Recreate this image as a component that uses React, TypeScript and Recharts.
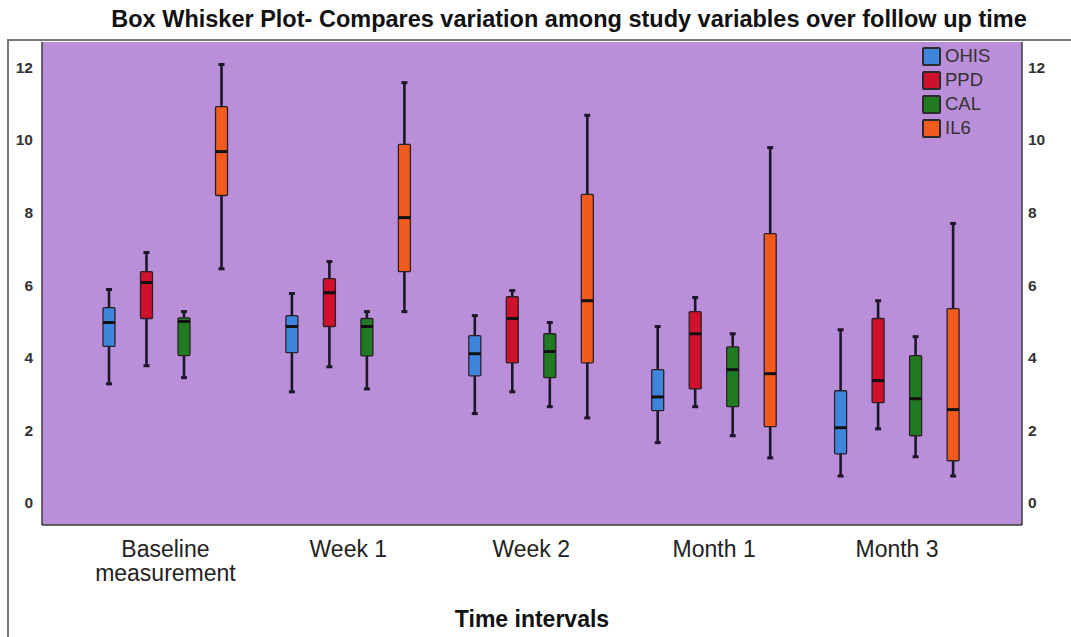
import { ComposedChart, Bar, XAxis, YAxis, CartesianGrid, Legend } from 'recharts';

const categories = ['Baseline measurement', 'Week 1', 'Week 2', 'Month 1', 'Month 3'];
const yTicks = [0, 2, 4, 6, 8, 10, 12];

// five-number summaries, one value per time point
const ohisMin = [3.28, 3.06, 2.46, 1.66, 0.74];
const ohisQ1 = [4.31, 4.14, 3.5, 2.54, 1.35];
const ohisMedian = [4.97, 4.86, 4.11, 2.92, 2.07];
const ohisQ3 = [5.38, 5.16, 4.61, 3.67, 3.09];
const ohisMax = [5.88, 5.77, 5.16, 4.86, 4.77];

const ppdMin = [3.78, 3.75, 3.06, 2.65, 2.04];
const ppdQ1 = [5.08, 4.86, 3.86, 3.14, 2.76];
const ppdMedian = [6.07, 5.79, 5.08, 4.66, 3.37];
const ppdQ3 = [6.37, 6.18, 5.68, 5.27, 5.08];
const ppdMax = [6.9, 6.65, 5.85, 5.66, 5.57];

const calMin = [3.45, 3.14, 2.65, 1.85, 1.27];
const calQ1 = [4.06, 4.05, 3.45, 2.65, 1.85];
const calMedian = [5.0, 4.86, 4.17, 3.67, 2.87];
const calQ3 = [5.1, 5.08, 4.66, 4.3, 4.06];
const calMax = [5.27, 5.27, 4.97, 4.66, 4.58];

const il6Min = [6.45, 5.27, 2.34, 1.24, 0.74];
const il6Q1 = [8.47, 6.37, 3.86, 2.1, 1.16];
const il6Median = [9.68, 7.86, 5.57, 3.56, 2.57];
const il6Q3 = [10.92, 9.88, 8.5, 7.42, 5.35];
const il6Max = [12.08, 11.58, 10.68, 9.79, 7.7];

const variables = [
  { key: 'OHIS', color: '#3d86dc', min: ohisMin, q1: ohisQ1, median: ohisMedian, q3: ohisQ3, max: ohisMax },
  { key: 'PPD', color: '#d0112b', min: ppdMin, q1: ppdQ1, median: ppdMedian, q3: ppdQ3, max: ppdMax },
  { key: 'CAL', color: '#207a22', min: calMin, q1: calQ1, median: calMedian, q3: calQ3, max: calMax },
  { key: 'IL6', color: '#f35a1e', min: il6Min, q1: il6Q1, median: il6Median, q3: il6Q3, max: il6Max },
];

// each bar spans min..max, the shape fills in the box and whiskers
const chartData = categories.map((name, i) => {
  const row: any = { name, idx: i };
  variables.forEach((v) => {
    row[v.key] = [v.min[i], v.max[i]];
  });
  return row;
});

const FONT = '"Liberation Sans", Arial, sans-serif';

function makeBoxShape(v: (typeof variables)[number]) {
  return (props: any) => {
    const { x, y, width, height, payload } = props;
    const i = payload.idx;
    const lo = v.min[i];
    const hi = v.max[i];
    const top = Math.min(y, y + height);
    const k = Math.abs(height) / (hi - lo);
    const py = (val: number) => top + (hi - val) * k;
    const cx = x + width / 2;
    const capW = 3;
    return (
      <g>
        <line x1={cx} x2={cx} y1={py(hi)} y2={py(lo)} stroke="#1c1828" strokeWidth={2.6} />
        <line x1={cx - capW} x2={cx + capW} y1={py(hi)} y2={py(hi)} stroke="#1c1828" strokeWidth={3} />
        <line x1={cx - capW} x2={cx + capW} y1={py(lo)} y2={py(lo)} stroke="#1c1828" strokeWidth={3} />
        <rect
          x={x}
          y={py(v.q3[i])}
          width={width}
          height={py(v.q1[i]) - py(v.q3[i])}
          fill={v.color}
          stroke="#2a2228"
          strokeWidth={1.3}
          rx={1}
        />
        <line x1={x} x2={x + width} y1={py(v.median[i])} y2={py(v.median[i])} stroke="#111" strokeWidth={3} />
      </g>
    );
  };
}

function CategoryTick({ x, y, payload }: any) {
  const words = payload.value === 'Baseline measurement' ? ['Baseline', 'measurement'] : [payload.value];
  return (
    <g>
      {words.map((w, j) => (
        <text key={w} x={x} y={y + 32 + j * 24} textAnchor="middle" fill="#222" fontSize={23} fontFamily={FONT}>
          {w}
        </text>
      ))}
    </g>
  );
}

function LegendBox() {
  return (
    <div style={{ fontFamily: FONT, fontSize: 18.5, color: '#333' }}>
      {variables.map((v) => (
        <div key={v.key} style={{ display: 'flex', alignItems: 'center', height: 24 }}>
          <span
            style={{
              display: 'inline-block',
              width: 15,
              height: 15,
              background: v.color,
              border: '2px solid #2b2b2b',
              borderRadius: 2,
              marginRight: 4,
            }}
          />
          <span>{v.key}</span>
        </div>
      ))}
    </div>
  );
}

export default function App() {
  const tickStyle = { fill: '#333', fontSize: 15.5, fontWeight: 700, fontFamily: FONT };
  return (
    <div style={{ position: 'absolute', left: 0, top: 0, width: 1071, height: 637, background: '#fff', fontFamily: FONT }}>
      <div
        style={{
          position: 'absolute',
          left: 69,
          top: 8,
          width: 1000,
          textAlign: 'center',
          fontSize: 23.5,
          lineHeight: '23px',
          fontWeight: 700,
          color: '#111',
        }}
      >
        Box Whisker Plot- Compares variation among study variables over folllow up time
      </div>
      <div
        style={{
          position: 'absolute',
          left: 7,
          top: 39,
          width: 1064,
          height: 598,
          borderTop: '2px solid #777',
          borderLeft: '2px solid #777',
          boxSizing: 'border-box',
        }}
      />
      <div style={{ position: 'absolute', left: 0, top: 0 }}>
        <ComposedChart
          width={1071}
          height={637}
          data={chartData}
          margin={{ top: 42, right: 0, bottom: 0, left: 0 }}
          barGap={25.5}
        >
          <CartesianGrid horizontal={false} vertical={false} fill="#ba8ed8" fillOpacity={1} />
          <XAxis
            dataKey="name"
            height={112}
            padding={{ left: 32, right: 33.5 }}
            axisLine={{ stroke: '#3a3a3a', strokeWidth: 1.5 }}
            tickLine={false}
            tickSize={0}
            tickMargin={0}
            interval={0}
            tick={<CategoryTick />}
            label={{ value: 'Time intervals', position: 'insideBottom', offset: 10, fill: '#111', fontSize: 23, fontWeight: 700, fontFamily: FONT }}
          />
          <YAxis
            type="number"
            domain={[-0.61, 12.7]}
            ticks={yTicks}
            interval={0}
            allowDataOverflow
            width={42}
            axisLine={{ stroke: '#3a3a3a', strokeWidth: 1.5 }}
            tickLine={false}
            tickSize={0}
            tickMargin={9}
            tick={tickStyle}
          />
          <YAxis
            yAxisId="right"
            orientation="right"
            type="number"
            domain={[-0.61, 12.7]}
            ticks={yTicks}
            interval={0}
            allowDataOverflow
            width={49}
            axisLine={{ stroke: '#3a3a3a', strokeWidth: 1.5 }}
            tickLine={false}
            tickSize={0}
            tickMargin={6}
            tick={tickStyle}
          />
          <Legend
            layout="horizontal"
            verticalAlign="middle"
            align="center"
            wrapperStyle={{ top: 44, left: 922, width: 'auto' }}
            content={() => <LegendBox />}
          />
          {variables.map((v) => (
            <Bar
              key={v.key}
              dataKey={v.key}
              barSize={12}
              fill={v.color}
              shape={makeBoxShape(v)}
              isAnimationActive={false}
            />
          ))}
        </ComposedChart>
      </div>
    </div>
  );
}
